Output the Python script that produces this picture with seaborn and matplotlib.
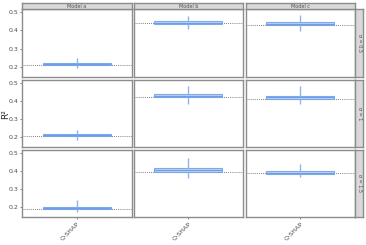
import numpy as np
import pandas as pd
import matplotlib
matplotlib.use('Agg')
import matplotlib.pyplot as plt
import seaborn as sns

models = ['Model a', 'Model b', 'Model c']
sigmas = ['σ = 0.5', 'σ = 1', 'σ = 1.5']
method = 'Q-SHAP'

# five-number summaries (min, q1, median, q3, max), rows = sigma, cols = model
summ = {
    ('σ = 0.5', 'Model a'): [0.190, 0.209, 0.213, 0.218, 0.245],
    ('σ = 0.5', 'Model b'): [0.410, 0.437, 0.442, 0.449, 0.480],
    ('σ = 0.5', 'Model c'): [0.395, 0.428, 0.436, 0.446, 0.485],
    ('σ = 1', 'Model a'): [0.180, 0.203, 0.207, 0.213, 0.240],
    ('σ = 1', 'Model b'): [0.380, 0.420, 0.428, 0.440, 0.480],
    ('σ = 1', 'Model c'): [0.380, 0.410, 0.418, 0.428, 0.480],
    ('σ = 1.5', 'Model a'): [0.170, 0.188, 0.193, 0.200, 0.240],
    ('σ = 1.5', 'Model b'): [0.360, 0.395, 0.402, 0.415, 0.470],
    ('σ = 1.5', 'Model c'): [0.365, 0.383, 0.389, 0.397, 0.440],
}
# true R2 reference lines
ref = {
    ('σ = 0.5', 'Model a'): 0.210, ('σ = 0.5', 'Model b'): 0.440, ('σ = 0.5', 'Model c'): 0.430,
    ('σ = 1', 'Model a'): 0.204, ('σ = 1', 'Model b'): 0.420, ('σ = 1', 'Model c'): 0.412,
    ('σ = 1.5', 'Model a'): 0.188, ('σ = 1.5', 'Model b'): 0.395, ('σ = 1.5', 'Model c'): 0.388,
}

rows = []
for (s, m), vals in summ.items():
    for v in vals:
        rows.append({'sigma': s, 'model': m, 'method': method, 'R2': v})
df = pd.DataFrame(rows)

sns.set_theme(style='white')
plt.rcParams['font.family'] = ['DejaVu Sans']

W, H = 366, 245
fig = plt.figure(figsize=(W / 100, H / 100), dpi=100)

col_x = [(22, 131.5), (133.5, 243), (245.5, 355)]
row_y = [(9.5, 77), (80, 147), (150, 217)]
strip_top = (3, 9.5)
strip_right = (355, 363)
edge = '#8c8c8c'
strip_fc = '#d9d9d9'


def box(x0, y0, x1, y1):
    return [x0 / W, 1 - y1 / H, (x1 - x0) / W, (y1 - y0) / H]


for i, s in enumerate(sigmas):
    for j, m in enumerate(models):
        ax = fig.add_axes(box(col_x[j][0], row_y[i][0], col_x[j][1], row_y[i][1]))
        sub = df[(df['sigma'] == s) & (df['model'] == m)]
        ax.axhline(ref[(s, m)], color='#555555', ls=(0, (1, 1.5)), lw=0.6, zorder=1)
        sns.boxplot(data=sub, x='method', y='R2', ax=ax, width=0.75, whis=(0, 100),
                    color='#a9c9f7', linecolor='#6d9eea', linewidth=0.8,
                    showcaps=False,
                    boxprops=dict(alpha=0.85),
                    whiskerprops=dict(color='#8db5f2', linewidth=1.0), zorder=2)
        ax.set_xlim(-0.6, 0.6)
        ax.set_ylim(0.143, 0.515)
        ax.set_xlabel('')
        ax.set_ylabel('')
        for sp in ax.spines.values():
            sp.set_color(edge)
            sp.set_linewidth(1.0)
        ax.tick_params(axis='both', length=1.5, width=0.5, color='#555555',
                       labelsize=4.5, labelcolor='#4d4d4d', pad=1)
        ax.set_yticks([0.2, 0.3, 0.4, 0.5])
        if j == 0:
            ax.tick_params(axis='y', left=True)
            ax.set_yticklabels(['0.2', '0.3', '0.4', '0.5'])
        else:
            ax.set_yticklabels([])
            ax.tick_params(axis='y', left=False)
        ax.set_xticks([0])
        if i == 2:
            ax.tick_params(axis='x', bottom=True)
            ax.set_xticklabels([method], rotation=45, ha='right', rotation_mode='anchor')
        else:
            ax.set_xticklabels([])
            ax.tick_params(axis='x', bottom=False)

# column strips
for j, m in enumerate(models):
    sax = fig.add_axes(box(col_x[j][0], strip_top[0], col_x[j][1], strip_top[1]))
    sax.set_facecolor(strip_fc)
    sax.set_xticks([])
    sax.set_yticks([])
    for sp in sax.spines.values():
        sp.set_color(edge)
        sp.set_linewidth(1.0)
    sax.text(0.5, 0.5, m, ha='center', va='center', fontsize=3.5, color='#4d4d4d',
             transform=sax.transAxes)

# row strips
for i, s in enumerate(sigmas):
    sax = fig.add_axes(box(strip_right[0], row_y[i][0], strip_right[1], row_y[i][1]))
    sax.set_facecolor(strip_fc)
    sax.set_xticks([])
    sax.set_yticks([])
    for sp in sax.spines.values():
        sp.set_color(edge)
        sp.set_linewidth(1.0)
    sax.text(0.5, 0.5, s, ha='center', va='center', fontsize=3.5, color='#4d4d4d',
             rotation=-90, transform=sax.transAxes)

fig.text(6 / W, 1 - 114 / H, 'R²', rotation=90, ha='center', va='center',
         fontsize=6.5, color='#222222')

fig.savefig('out.png', dpi=100)
